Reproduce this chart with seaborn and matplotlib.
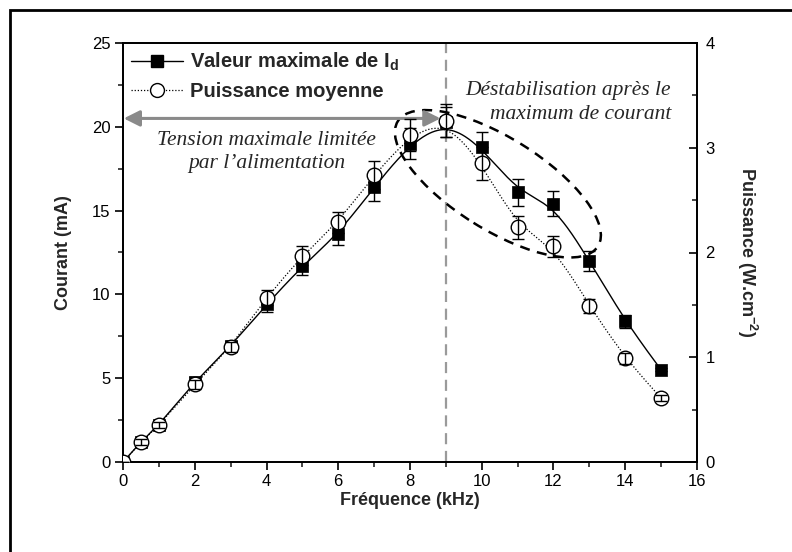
import numpy as np
import pandas as pd
import matplotlib
matplotlib.use("Agg")
import matplotlib.pyplot as plt
import seaborn as sns
from matplotlib.lines import Line2D
from matplotlib.patches import Ellipse, Rectangle
from matplotlib.transforms import ScaledTranslation
from matplotlib.ticker import MultipleLocator

# Measured values
frequence = [0, 0.5, 1, 2, 3, 4, 5, 6, 7, 8, 9, 10, 11, 12, 13, 14, 15]          # kHz
courant = [0, 1.2, 2.2, 4.8, 6.9, 9.4, 11.7, 13.6, 16.4, 19.0, 20.3, 18.8, 16.1, 15.4, 12.0, 8.4, 5.5]  # mA
courant_err = [0, 0.15, 0.2, 0.25, 0.3, 0.45, 0.55, 0.65, 0.8, 0.95, 0.9, 0.9, 0.8, 0.75, 0.6, 0.4, 0.1]
puissance = [0, 0.19, 0.35, 0.74, 1.10, 1.57, 1.97, 2.29, 2.74, 3.12, 3.26, 2.85, 2.24, 2.06, 1.49, 0.99, 0.61]  # W/cm2
puissance_err = [0, 0.03, 0.03, 0.04, 0.05, 0.07, 0.09, 0.10, 0.13, 0.15, 0.16, 0.16, 0.11, 0.10, 0.07, 0.05, 0.03]

x_ticks = [0, 2, 4, 6, 8, 10, 12, 14, 16]
y_ticks = [0, 5, 10, 15, 20, 25]
y2_ticks = [0, 1, 2, 3, 4]

sns.set_theme(style="ticks")
plt.rcParams["font.family"] = ["Liberation Sans", "DejaVu Sans"]
plt.rcParams["mathtext.fontset"] = "custom"
plt.rcParams["mathtext.rm"] = "Liberation Sans"
plt.rcParams["mathtext.bf"] = "Liberation Sans:bold"


def bspline(x, y, n=40):
    """Uniform cubic B-spline using the points as control points (ends clamped)."""
    P = np.column_stack([x, y]).astype(float)
    P = np.vstack([P[0], P[0], P, P[-1], P[-1]])
    t = np.linspace(0, 1, n)
    b0 = (1 - t) ** 3 / 6
    b1 = (3 * t ** 3 - 6 * t ** 2 + 4) / 6
    b2 = (-3 * t ** 3 + 3 * t ** 2 + 3 * t + 1) / 6
    b3 = t ** 3 / 6
    pts = []
    for i in range(len(P) - 3):
        seg = (b0[:, None] * P[i] + b1[:, None] * P[i + 1]
               + b2[:, None] * P[i + 2] + b3[:, None] * P[i + 3])
        pts.append(seg)
    pts = np.vstack(pts)
    return pts[:, 0], pts[:, 1]


df = pd.DataFrame({"f": frequence, "I": courant, "Ierr": courant_err,
                   "P": puissance, "Perr": puissance_err})

fig = plt.figure(figsize=(7.92, 5.52), dpi=100)
ax = fig.add_axes([123 / 792, 1 - 462 / 552, (697 - 123) / 792, (462 - 43) / 552])
ax2 = ax.twinx()

# Current: smooth solid curve, error bars, filled squares
cx, cy = bspline(df["f"], df["I"])
sns.lineplot(x=cx, y=cy, ax=ax, color="black", lw=1.0, sort=False, estimator=None)
sns.scatterplot(data=df, x="f", y="I", ax=ax, marker="s", s=70, color="black",
                edgecolor="black", linewidth=0.5, zorder=3)
ax.errorbar(df["f"], df["I"], yerr=df["Ierr"], fmt="none", ecolor="black",
            elinewidth=1.0, capsize=4.5, capthick=1.0, zorder=4)

# Power: dotted smooth curve, error bars, open circles
px_, py_ = bspline(df["f"], df["P"])
sns.lineplot(x=px_, y=py_, ax=ax2, color="black", lw=0.9, ls=(0, (1, 1.5)),
             sort=False, estimator=None)
sns.scatterplot(data=df, x="f", y="P", ax=ax2, marker="o", s=110, color="white",
                edgecolor="black", linewidth=1.0, zorder=3)
ax2.errorbar(df["f"], df["P"], yerr=df["Perr"], fmt="none", ecolor="black",
             elinewidth=1.0, capsize=4.5, capthick=1.0, zorder=4)

# Axes limits and ticks
ax.set_xlim(0, 16)
ax.set_ylim(0, 25)
ax2.set_ylim(0, 4)
ax.set_xticks(x_ticks)
ax.set_yticks(y_ticks)
ax2.set_yticks(y2_ticks)
ax.xaxis.set_minor_locator(MultipleLocator(1))
ax.yaxis.set_minor_locator(MultipleLocator(2.5))
ax2.yaxis.set_minor_locator(MultipleLocator(0.5))

for a in (ax, ax2):
    for s in a.spines.values():
        s.set_linewidth(1.3)
        s.set_color("black")
        s.set_visible(True)
ax.tick_params(axis="both", which="major", direction="out", length=6, width=1.2,
               labelsize=12, colors="black", pad=3)
ax.tick_params(axis="both", which="minor", direction="out", length=3.5, width=1.2)
ax2.tick_params(axis="y", which="major", direction="in", length=6, width=1.2,
                labelsize=12, colors="black", pad=6)
ax2.tick_params(axis="y", which="minor", direction="in", length=3.5, width=1.2)

ax.set_xlabel("Fréquence (kHz)", fontsize=13, fontweight="bold", labelpad=2)
ax.set_ylabel("Courant (mA)", fontsize=13, fontweight="bold", labelpad=14)
ax2.set_ylabel(r"Puissance (W.cm$^{\mathbf{-2}}$)", fontsize=13, fontweight="bold",
               rotation=270, labelpad=32)
ax.grid(False)
ax2.grid(False)

# Frequency of the current maximum
ax.axvline(9, color="#9a9a9a", lw=1.6, ls=(0, (5, 3)), zorder=1)

# Range limited by the supply voltage
ax.annotate("", xy=(0.02, 20.5), xytext=(8.85, 20.5),
            arrowprops=dict(arrowstyle="<|-|>", color="#8a8a8a", lw=2.2,
                            mutation_scale=24, shrinkA=0, shrinkB=0), zorder=2)
ax.text(4.0, 18.5, "Tension maximale limitée\npar l’alimentation",
        fontsize=15.5, family="Liberation Serif", style="italic",
        ha="center", va="center", linespacing=1.3)

# Destabilisation zone
ax.text(15.28, 21.45, "Déstabilisation après le\nmaximum de courant",
        fontsize=15.5, family="Liberation Serif", style="italic",
        ha="right", va="center", linespacing=1.3)
ell = Ellipse((0, 0), width=2.36, height=0.92, angle=-32, fill=False,
              edgecolor="black", lw=1.8, ls=(0, (4, 3)),
              transform=fig.dpi_scale_trans + ScaledTranslation(10.45, 16.6, ax.transData))
ax.add_artist(ell)

# Legend
handles = [
    Line2D([], [], color="black", lw=1.0, marker="s", markersize=8.5,
           markerfacecolor="black", markeredgecolor="black"),
    Line2D([], [], color="black", lw=0.9, ls=(0, (1, 1.5)), marker="o", markersize=10,
           markerfacecolor="white", markeredgecolor="black"),
]
labels = [r"Valeur maximale de I$_{\mathbf{d}}$", "Puissance moyenne"]
ax.legend(handles, labels, loc="upper left", bbox_to_anchor=(0.0, 1.0),
          frameon=False, prop=dict(size=14.5, weight="bold"), handlelength=2.6,
          handletextpad=0.35, labelspacing=0.45, borderaxespad=0.2, borderpad=0.2)

# Outer frame
fig.patches.append(Rectangle((10 / 792, -0.2), 1.5, 1.2 - 10 / 552, transform=fig.transFigure,
                             fill=False, edgecolor="black", lw=2.0, clip_on=False))

fig.savefig("out.png", dpi=100)
